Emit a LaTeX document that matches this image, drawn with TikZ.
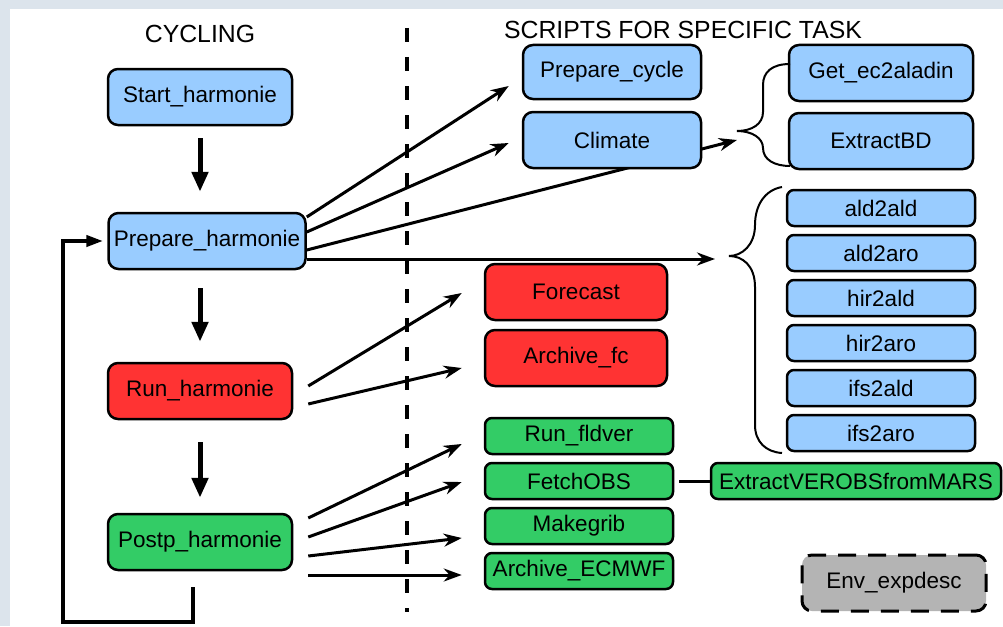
\documentclass[tikz,border=0pt]{standalone}
\usepackage{fontspec}
\setmainfont{Liberation Sans}
\usetikzlibrary{arrows.meta,calc,backgrounds}
\definecolor{boxblue}{RGB}{153,204,255}
\definecolor{boxred}{RGB}{255,51,51}
\definecolor{boxgreen}{RGB}{51,204,102}
\definecolor{boxgrey}{RGB}{180,180,180}
\definecolor{band}{RGB}{220,228,236}

\begin{document}
\begin{tikzpicture}[x=1pt,y=-1pt,
	task/.style={draw, line width=2.5pt, rounded corners=10pt, inner sep=0pt, font=\fontsize{22.5pt}{27pt}\selectfont},
	big/.style={task, minimum width=#1, minimum height=56pt},
	slim/.style={task, rounded corners=7pt, minimum width=#1, minimum height=36pt},
	head/.style={font=\fontsize{24.8pt}{29pt}\selectfont},
	down/.style={line width=5pt, -{Triangle[length=20pt,width=16pt]}},
	fan/.style={line width=3pt, -{Stealth[length=18pt,width=13pt]}},
	brace/.style={line width=2pt}]
	\useasboundingbox (0,0) rectangle (1003,626);
	\begin{pgfonlayer}{background}
		\fill[band] (0,0) rectangle (1003,626);
		\fill[white] (10,9) rectangle (1003,626);
	\end{pgfonlayer}
	\node[head] (hcyc) at (200,34) {CYCLING};
	\node[head] (hscr) at (683,30) {SCRIPTS FOR SPECIFIC TASK};
	\draw[line width=4pt, dash pattern=on 14pt off 15pt] (407,28) -- (407,612);
	\node[big=184pt, fill=boxblue] (start) at (200,97) {Start\_harmonie};
	\node[big=197pt, fill=boxblue] (prep) at (207,241) {Prepare\_harmonie};
	\node[big=184pt, fill=boxred] (run) at (200,391) {Run\_harmonie};
	\node[big=184pt, fill=boxgreen] (postp) at (200,542) {Postp\_harmonie};
	\node[big=178pt, minimum height=54pt, fill=boxblue] (pcyc) at (612,72) {Prepare\_cycle};
	\node[big=178pt, fill=boxblue] (clim) at (612,140) {Climate};
	\node[big=184pt, fill=boxblue] (getec) at (881,73) {Get\_ec2aladin};
	\node[big=184pt, fill=boxblue] (extbd) at (881,141) {ExtractBD};
	\foreach \n [count=\i from 0] in {ald2ald,ald2aro,hir2ald,hir2aro,ifs2ald,ifs2aro}
		\node[slim=188pt, fill=boxblue] (\n) at (881,208+45*\i) {\n};
	\node[big=182pt, fill=boxred] (fc) at (576,292) {Forecast};
	\node[big=182pt, fill=boxred] (afc) at (576,358) {Archive\_fc};
	\node[slim=188pt, fill=boxgreen] (rfv) at (579,436) {Run\_fldver};
	\node[slim=188pt, fill=boxgreen] (fobs) at (579,481) {FetchOBS};
	\node[slim=188pt, fill=boxgreen] (mkg) at (579,526) {Makegrib};
	\node[slim=188pt, fill=boxgreen] (aec) at (579,571) {Archive\_ECMWF};
	\node[slim=290pt, fill=boxgreen] (extv) at (856,481) {ExtractVEROBSfromMARS};
	\node[big=184pt, fill=boxgrey, line width=3pt, dash pattern=on 18pt off 12pt] (env) at (894,583) {Env\_expdesc};
	\coordinate (bt1) at (737,140);
	\coordinate (bt2) at (715,259);
	\draw[down] ($(start.south)+(0,12)$) -- ($(start.south |- prep.north)+(0,-20)$);
	\draw[down] ($(run.north |- prep.south)+(0,18)$) -- ($(run.north)+(0,-20)$);
	\draw[down] ($(run.south)+(0,22)$) -- ($(postp.north)+(0,-15)$);
	\draw[line width=4pt, -{Triangle[length=17pt,width=11pt]}] ($(postp.south)+(-7,16)$) -- ++(0,35) -- ++(-130,0) |- ($(prep.west)+(-4,0)$);
	\draw[fan] ($(prep.east)+(0,-24)$) -- ($(pcyc.west)+(-13,14)$);
	\draw[fan] ($(prep.east)+(0,-9)$) -- ($(clim.west)+(-13,3)$);
	\begin{pgfonlayer}{background}
		\draw[fan] ($(prep.east)+(0,9)$) -- (bt1);
	\end{pgfonlayer}
	\draw[fan] ($(prep.east)+(0,18)$) -- (bt2);
	\draw[fan] ($(run.east)+(15,-5)$) -- ($(fc.west)+(-22,1)$);
	\draw[fan] ($(run.east)+(15,13)$) -- ($(afc.west)+(-22,10)$);
	\draw[fan] ($(postp.east)+(15,-24)$) -- ($(rfv.west)+(-22,8)$);
	\draw[fan] ($(postp.east)+(15,-5)$) -- ($(fobs.west)+(-22,1)$);
	\draw[fan] ($(postp.east)+(15,14)$) -- ($(mkg.west)+(-22,12)$);
	\draw[fan] ($(postp.east)+(15,33)$) -- ($(aec.west)+(-22,4)$);
	\draw[line width=3pt] ($(fobs.east)+(5,0)$) -- (extv.west);
	\draw[brace] (790,64) .. controls (772,64) and (763,72) .. (763,85) -- (763,112) .. controls (763,124) and (752,131) .. (737,131) .. controls (752,131) and (763,138) .. (763,148) .. controls (763,160) and (775,166) .. (790,166);
	\draw[brace] (782,187) .. controls (765,190) and (755,205) .. (755,225) .. controls (755,245) and (742,256) .. (729,256) .. controls (742,256) and (755,265) .. (755,287) -- (755,425) .. controls (755,442) and (766,452) .. (782,453);
\end{tikzpicture}
\end{document}
